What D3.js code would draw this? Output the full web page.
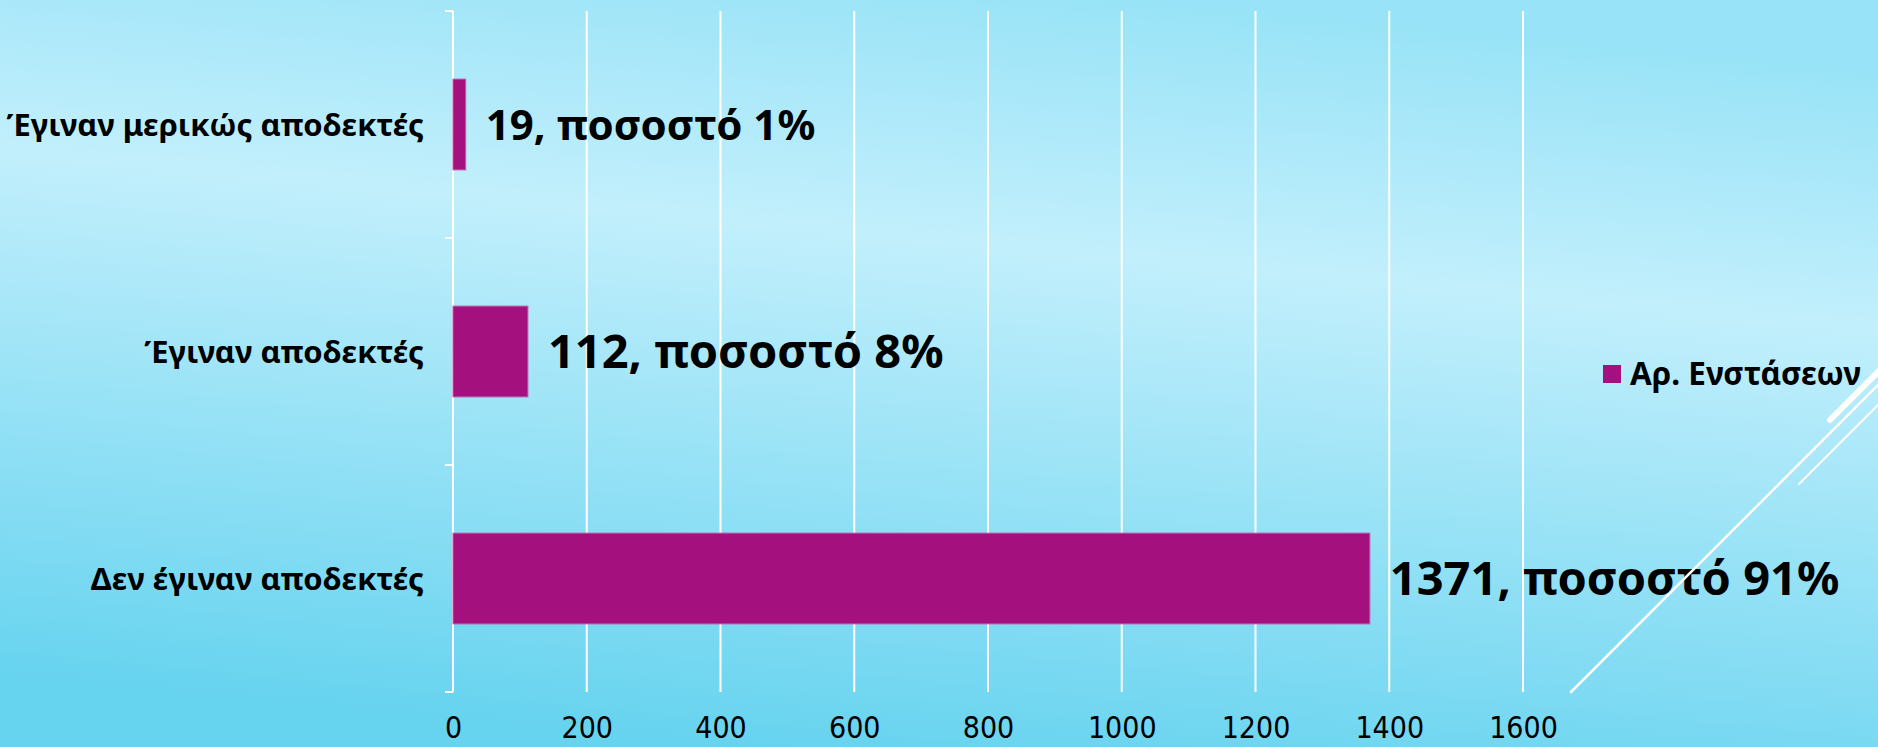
<!DOCTYPE html>
<html>
<head>
<meta charset="utf-8">
<script src="https://cdn.jsdelivr.net/npm/d3@7"></script>
<style>
  body { margin: 0; overflow: hidden; }
  svg { display: block; }
</style>
</head>
<body>
<script>
// Chart data (top to bottom as on the slide)
const categories = ['Έγιναν μερικώς αποδεκτές', 'Έγιναν αποδεκτές', 'Δεν έγιναν αποδεκτές'];
const counts = [19, 112, 1371];
const percents = [1, 8, 91];
const xTicks = [0, 200, 400, 600, 800, 1000, 1200, 1400, 1600];
const seriesName = 'Αρ. Ενστάσεων';

const width = 1878;
const height = 747;
const barColor = '#a4107e';
const labelFont = '"Noto Sans", "DejaVu Sans", sans-serif';

const svg = d3.select('body')
  .append('svg')
  .attr('width', width)
  .attr('height', height);

// Background gradient
const defs = svg.append('defs');
const grad = defs.append('linearGradient')
  .attr('id', 'bg')
  .attr('x1', 0.62).attr('y1', 0)
  .attr('x2', 0.38).attr('y2', 1);
grad.append('stop').attr('offset', 0).attr('stop-color', '#98e3f7');
grad.append('stop').attr('offset', 0.33).attr('stop-color', '#c2effc');
grad.append('stop').attr('offset', 1).attr('stop-color', '#66d3ef');

svg.append('rect')
  .attr('width', width)
  .attr('height', height)
  .attr('fill', 'url(#bg)');

// Scales
const xScale = d3.scaleLinear()
  .domain([0, 1600])
  .range([453, 1523]);

const yScale = d3.scaleBand()
  .domain(categories)
  .range([11, 692])
  .paddingInner(0.6)
  .paddingOuter(0.3);

// Gridlines
svg.append('g')
  .selectAll('line')
  .data(xTicks)
  .enter()
  .append('line')
  .attr('x1', d => xScale(d))
  .attr('x2', d => xScale(d))
  .attr('y1', yScale.range()[0])
  .attr('y2', yScale.range()[1])
  .attr('stroke', '#fff')
  .attr('stroke-width', 2);

// Y axis ticks at band boundaries
const step = yScale.step();
const bounds = d3.range(categories.length + 1).map(i => yScale.range()[0] + i * step);
svg.append('g')
  .selectAll('line')
  .data(bounds)
  .enter()
  .append('line')
  .attr('x1', xScale(0) - 8)
  .attr('x2', xScale(0))
  .attr('y1', d => d)
  .attr('y2', d => d)
  .attr('stroke', '#fff')
  .attr('stroke-width', 2);

// X tick labels
const xAxis = d3.axisBottom(xScale)
  .tickValues(xTicks)
  .tickFormat(d3.format('d'))
  .tickSize(0)
  .tickPadding(0);
svg.append('g')
  .attr('transform', 'translate(0, 738)')
  .call(xAxis)
  .call(g => g.select('.domain').remove())
  .selectAll('text')
  .attr('dy', 0)
  .attr('y', 0)
  .attr('fill', '#000')
  .style('font-family', '"Liberation Sans Narrow", "DejaVu Sans Condensed", sans-serif')
  .style('font-size', '30px');

// Category labels
svg.append('g')
  .selectAll('text')
  .data(categories)
  .enter()
  .append('text')
  .attr('x', 424)
  .attr('y', d => yScale(d) + yScale.bandwidth() / 2 + 11)
  .attr('text-anchor', 'end')
  .style('font-family', labelFont)
  .style('font-weight', 'bold')
  .style('font-size', '31px')
  .text(d => d);

// Bars
svg.append('g')
  .selectAll('rect')
  .data(categories)
  .enter()
  .append('rect')
  .attr('x', xScale(0))
  .attr('y', d => yScale(d))
  .attr('width', (d, i) => xScale(counts[i]) - xScale(0))
  .attr('height', yScale.bandwidth())
  .attr('fill', barColor)
  .attr('stroke', '#c05aa6')
  .attr('stroke-width', 1);

// Data labels
const labelSize = i => (i === 0 ? 42 : 47);
svg.append('g')
  .selectAll('text')
  .data(categories)
  .enter()
  .append('text')
  .attr('x', (d, i) => xScale(counts[i]) + 20)
  .attr('y', (d, i) => yScale(d) + yScale.bandwidth() / 2 + labelSize(i) * 0.36)
  .style('font-family', labelFont)
  .style('font-weight', 'bold')
  .style('font-size', (d, i) => labelSize(i) + 'px')
  .text((d, i) => counts[i] + ', ποσοστό ' + percents[i] + '%');

// Legend
const legend = svg.append('g').attr('transform', 'translate(1603, 365)');
legend.append('rect')
  .attr('width', 18)
  .attr('height', 18)
  .attr('fill', barColor);
legend.append('text')
  .attr('x', 27)
  .attr('y', 20)
  .style('font-family', labelFont)
  .style('font-weight', 'bold')
  .style('font-size', '31.5px')
  .text(seriesName);

// Decorative slide lines
const deco = svg.append('g').attr('stroke', '#fff').attr('stroke-linecap', 'round');
deco.append('line').attr('x1', 1571).attr('y1', 692).attr('x2', 1885).attr('y2', 378).attr('stroke-width', 2.5);
deco.append('line').attr('x1', 1799).attr('y1', 484).attr('x2', 1885).attr('y2', 398).attr('stroke-width', 2);
deco.append('line').attr('x1', 1830).attr('y1', 420).attr('x2', 1885).attr('y2', 365).attr('stroke-width', 6);
</script>
</body>
</html>
